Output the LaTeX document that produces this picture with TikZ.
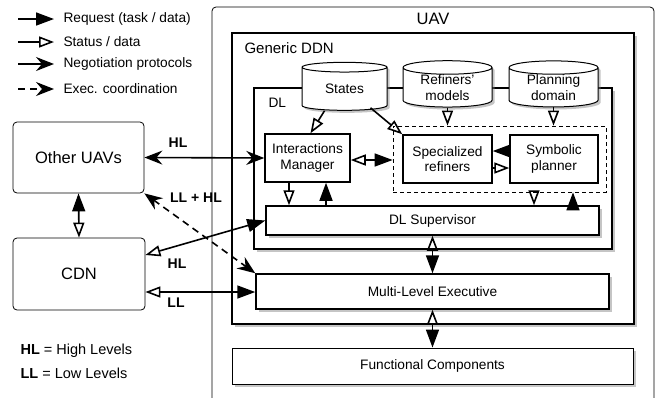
\documentclass[tikz,border=0pt]{standalone}
\usepackage{fontspec}
\setmainfont{Liberation Sans}
\usetikzlibrary{arrows.meta,shapes.geometric,shadows}

\begin{document}
\begin{tikzpicture}[x=1pt, y=-1pt, font=\fontsize{13.7}{15.5}\selectfont,
    main/.style = {draw, fill=white, line width=1.5pt, inner sep=0pt, align=center},
    shade/.style = {drop shadow={opacity=0.45, shadow xshift=2.5pt, shadow yshift=-2.5pt}},
    ext/.style = {draw, fill=white, rounded corners=4pt, line width=0.8pt, inner sep=0pt, font=\fontsize{16.5}{18}\selectfont},
    db/.style = {main, cylinder, shape border rotate=90, aspect=0.25, line width=1pt},
    con/.style = {line width=1.6pt},
    exec/.style = {con, dash pattern=on 7pt off 5pt},
    lab/.style = {font=\bfseries\fontsize{14}{16}\selectfont},
    req/.tip = {Triangle[length=18pt, width=13pt]},
    sta/.tip = {Triangle[open, length=15pt, width=11pt]},
    neg/.tip = {Stealth[length=18pt, width=14pt, inset=6pt]}]
    \useasboundingbox (0,0) rectangle (665,397);

    % legend
    \coordinate (req0) at (18,19);  \coordinate (req1) at (54,19);
    \coordinate (sta0) at (18,42);  \coordinate (sta1) at (54,42);
    \coordinate (neg0) at (18,64);  \coordinate (neg1) at (54,64);
    \coordinate (exe0) at (18,89);  \coordinate (exe1) at (54,89);
    \draw[con, -req] (req0) -- (req1);
    \draw[con, -sta] (sta0) -- (sta1);
    \draw[con, -neg] (neg0) -- (neg1);
    \draw[exec, -neg] (exe0) -- (exe1);
    \node[anchor=west] (reqtxt) at (60,19) {Request (task / data)};
    \node[anchor=west] (statxt) at (60,42) {Status / data};
    \node[anchor=west] (negtxt) at (60,64) {Negotiation protocols};
    \node[anchor=west] (exetxt) at (60,89) {Exec. coordination};
    \node[anchor=west, font=\fontsize{14.5}{16}\selectfont] (hltxt) at (17,351) {\textbf{HL} = High Levels};
    \node[anchor=west, font=\fontsize{14.5}{16}\selectfont] (lltxt) at (17,373) {\textbf{LL} = Low Levels};

    % UAV
    \draw[line width=0.8pt, rounded corners=4pt] (212,420) -- (212,7) -- (654,7) -- (654,420);
    \node[font=\fontsize{16.5}{18}\selectfont] (uav) at (433,19) {UAV};

    \node[main, shade, line width=2.5pt, minimum width=402pt, minimum height=291pt] (ddn) at (433,178.5) {};
    \node[anchor=west, font=\fontsize{15}{17}\selectfont] (ddntxt) at (241,48) {Generic DDN};
    \node[main, shade, line width=2pt, minimum width=358pt, minimum height=161pt] (dl) at (433,168.5) {};
    \node[anchor=west] (dltxt) at (265,103) {DL};

    \node[db, shade, minimum width=85pt, minimum height=48pt] (states) at (344.5,89) {States};
    \node[db, shade, minimum width=89pt, minimum height=46pt] (models) at (447.5,87.5) {Refiners'\\models};
    \node[db, shade, minimum width=89pt, minimum height=46pt] (domain) at (553.5,87.5) {Planning\\domain};

    \node[draw, line width=0.8pt, dash pattern=on 4pt off 3pt, minimum width=213pt, minimum height=66pt] (refplan) at (499.5,159) {};
    \node[main, minimum width=85pt, minimum height=48pt] (im) at (307.5,158) {Interactions\\Manager};
    \node[main, minimum width=89pt, minimum height=48pt] (sr) at (447.5,159) {Specialized\\refiners};
    \node[main, minimum width=88pt, minimum height=48pt] (sp) at (554,159) {Symbolic\\planner};
    \node[main, shade, minimum width=333pt, minimum height=29pt] (dls) at (432.5,220.5) {DL Supervisor};
    \node[main, shade, minimum width=353pt, minimum height=35pt] (mle) at (432.5,291.5) {Multi-Level Executive};
    \node[main, shade, line width=1pt, minimum width=401pt, minimum height=36pt] (fc) at (432.5,366) {Functional Components};

    \node[ext, minimum width=131pt, minimum height=71pt] (other) at (78.5,157.5) {Other UAVs};
    \node[ext, minimum width=132pt, minimum height=72pt] (cdn) at (79,274) {CDN};

    % outside links
    \draw[con, neg-neg] (other.east) -- (im.west);
    \draw[con, req-sta] (other.south) -- (cdn.north);
    \draw[exec, neg-neg] (other.south east) -- (mle.north west);
    \draw[con, sta-req] ([yshift=19pt]cdn.east) -- (dls.west);
    \draw[con, sta-req] ([yshift=-18pt]cdn.east) -- ([yshift=-18pt]cdn.east -| mle.west);
    \node[lab] (hl1) at (178,143) {HL};
    \node[lab] (llhl) at (196,198) {LL + HL};
    \node[lab] (hl2) at (177,264) {HL};
    \node[lab] (ll) at (176,303) {LL};

    % inside links
    \draw[con, -sta] ([xshift=-20pt]states.south) -- ([xshift=3pt]im.north);
    \draw[con, -sta] ([xshift=26pt,yshift=3pt]states.south) -- (sr.north west);
    \draw[con, -sta] (models.south) -- (models.south |- refplan.north);
    \draw[con, -sta] (domain.south) -- (domain.south |- refplan.north);
    \draw[con, sta-req] ([yshift=-2pt]im.east) -- ([yshift=-2pt]im.east -| refplan.west);
    \draw[con, -req] ([yshift=8pt]sp.west) -- ([yshift=8pt]sr.east);
    \draw[con, -sta] ([yshift=-9pt]sr.east) -- ([yshift=-9pt]sp.west);
    \draw[con, -sta] ([xshift=-18.5pt]im.south) -- ([xshift=-18.5pt]im.south |- dls.north);
    \draw[con, -req] ([xshift=18.5pt]im.south |- dls.north) -- ([xshift=18.5pt]im.south);
    \draw[con, -sta] ([xshift=34.5pt]refplan.south) -- ([xshift=34.5pt]refplan.south |- dls.north);
    \draw[con, -req] ([xshift=73.5pt]refplan.south |- dls.north) -- ([xshift=73.5pt]refplan.south);
    \draw[con, sta-req] (dls.south) -- (mle.north);
    \draw[con, sta-req] (mle.south) -- (fc.north);
\end{tikzpicture}
\end{document}
